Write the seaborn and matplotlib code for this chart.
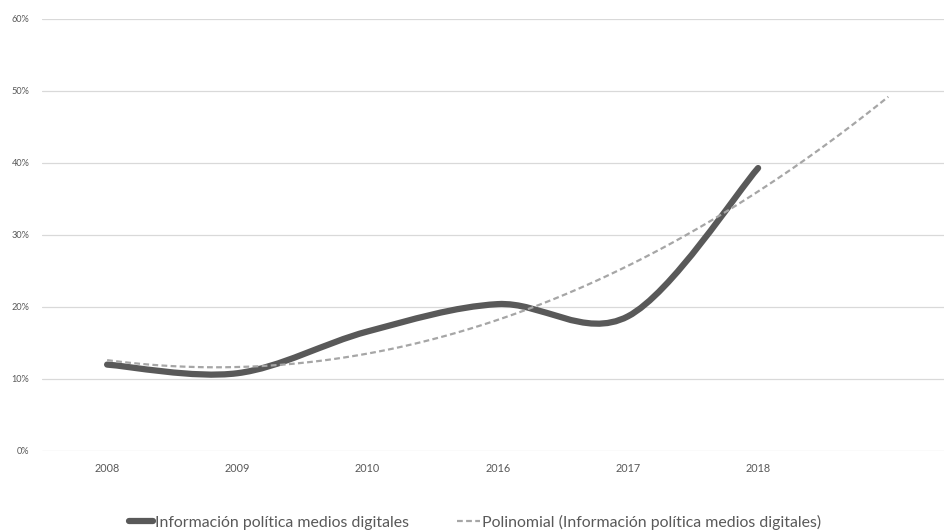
import numpy as np
import pandas as pd
import seaborn as sns
import matplotlib
matplotlib.use("Agg")
import matplotlib.pyplot as plt
from matplotlib.path import Path
from matplotlib.patches import PathPatch
from matplotlib.lines import Line2D

# Share of political information consumed through digital media, by year
years = ["2008", "2009", "2010", "2016", "2017", "2018"]
share = [0.12, 0.108, 0.166, 0.204, 0.187, 0.393]
y_ticks = [0.0, 0.1, 0.2, 0.3, 0.4, 0.5, 0.6]
y_tick_labels = ["0%", "10%", "20%", "30%", "40%", "50%", "60%"]
series_label = "Información política medios digitales"
trend_label = "Polinomial (Información política medios digitales)"

sns.set_theme(style="white")
plt.rcParams["font.family"] = ["Lato", "DejaVu Sans"]

TEXT = "#595959"
LINE = "#595959"
TREND = "#a6a6a6"
GRID = "#d9d9d9"

df = pd.DataFrame({"pos": np.arange(len(years)), "share": share})

fig = plt.figure(figsize=(9.45, 5.31), dpi=100)
ax = fig.add_axes([42 / 945, 80 / 531, 903 / 945, 432 / 531])

# Second-order polynomial trend, projected one period forward
ax.set_xlim(0, len(years))
sns.regplot(data=df, x="pos", y="share", order=2, ci=None, scatter=False,
            truncate=False, ax=ax,
            line_kws=dict(color=TREND, lw=1.6, ls=(0, (2.6, 1.5)), zorder=4))

# Smoothed series line (cubic Bezier segments through every value)
pts = df[["pos", "share"]].to_numpy(dtype=float)
n = len(pts)
verts = [tuple(pts[0])]
codes = [Path.MOVETO]
for i in range(n - 1):
    p0 = pts[max(i - 1, 0)]
    p1 = pts[i]
    p2 = pts[i + 1]
    p3 = pts[min(i + 2, n - 1)]
    c1 = p1 + (p2 - p0) / 6.0
    c2 = p2 - (p3 - p1) / 6.0
    verts += [tuple(c1), tuple(c2), tuple(p2)]
    codes += [Path.CURVE4] * 3
ax.add_patch(PathPatch(Path(verts, codes), fill=False, edgecolor=LINE,
                       lw=4.5, capstyle="round", joinstyle="round", zorder=3))

ax.set_xlim(-0.5, -0.5 + 903 / 130.2)
ax.set_ylim(0, 0.6)
ax.set_xticks(df["pos"])
ax.set_xticklabels(years)
ax.set_yticks(y_ticks)
ax.set_yticklabels(y_tick_labels)
ax.set_xlabel("")
ax.set_ylabel("")
ax.tick_params(axis="x", length=0, pad=9, labelsize=7.8, colors=TEXT)
ax.tick_params(axis="y", length=0, pad=9, labelsize=6.6, colors=TEXT)
ax.yaxis.grid(True, color=GRID, lw=0.9)
ax.xaxis.grid(False)
for s in ax.spines.values():
    s.set_visible(False)

handles = [
    Line2D([], [], color=LINE, lw=4.5, solid_capstyle="round"),
    Line2D([], [], color=TREND, lw=1.6, ls=(0, (2.6, 1.5))),
]
fig.legend(handles, [series_label, trend_label], loc="center",
           bbox_to_anchor=(0.503, 1 - 522 / 531), ncol=2, frameon=False,
           fontsize=11.4, handlelength=1.5, handletextpad=0.12,
           columnspacing=3.0, labelcolor=TEXT)

fig.savefig("out.png", dpi=100)
